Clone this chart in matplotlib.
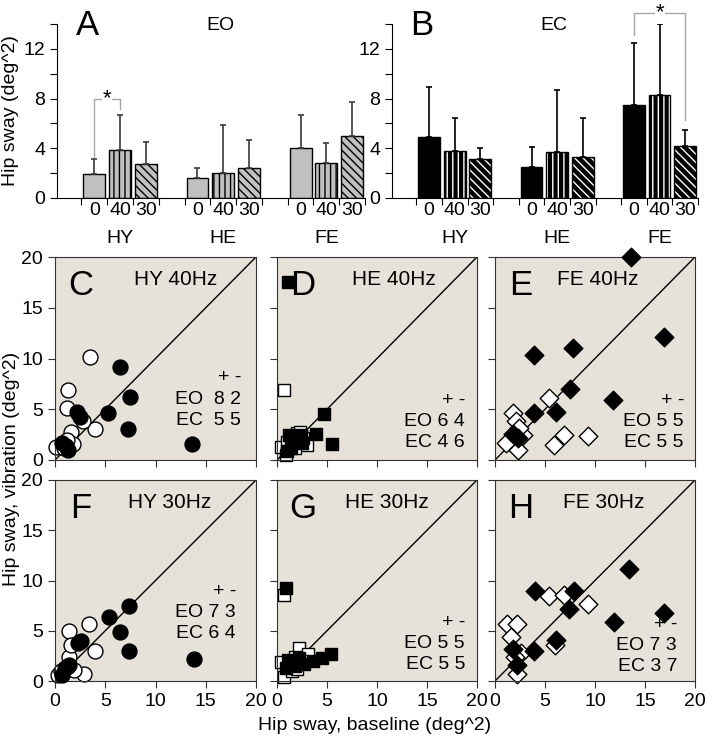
import matplotlib
matplotlib.use("Agg")
import matplotlib.pyplot as plt

plt.rcParams['font.family'] = ['Liberation Sans', 'DejaVu Sans']

# --- bar data (A: eyes open, B: eyes closed) ---
groups = ["HY", "HE", "FE"]
conds = ["0", "40", "30"]
eo_mean = [1.9, 3.9, 2.7, 1.6, 2.0, 2.4, 4.0, 2.8, 5.0]
eo_err_top = [3.1, 6.7, 4.5, 2.4, 5.9, 4.7, 6.7, 4.4, 7.7]
ec_mean = [4.9, 3.8, 3.1, 2.5, 3.7, 3.3, 7.5, 8.3, 4.2]
ec_err_top = [8.9, 6.4, 4.0, 4.1, 8.7, 6.4, 12.5, 14.0, 5.5]

# --- scatter data: (baseline, vibration) ---
hy40_eo_x = [3.5, 1.3, 1.2, 1.6, 4.0, 1.8, 0.1, 2.8, 0.9, 1.2]
hy40_eo_y = [10.1, 6.9, 5.1, 2.8, 3.1, 1.6, 1.3, 3.8, 1.2, 2.0]
hy40_ec_x = [6.5, 7.5, 5.3, 2.2, 2.5, 7.3, 13.6, 0.7, 1.3, 1.1]
hy40_ec_y = [9.2, 6.2, 4.6, 4.7, 4.2, 3.1, 1.6, 1.7, 1.0, 1.4]

he40_eo_x = [0.7, 2.0, 0.4, 0.9, 3.0, 1.3, 2.3, 1.0, 2.6, 1.8]
he40_eo_y = [6.9, 2.7, 1.3, 0.5, 1.5, 2.0, 2.8, 1.8, 2.2, 1.2]
he40_ec_x = [1.1, 4.7, 5.5, 3.9, 1.2, 1.7, 2.4, 1.0, 1.4, 2.5]
he40_ec_y = [17.5, 4.5, 1.6, 2.6, 2.5, 2.2, 2.5, 0.9, 1.2, 1.7]

fe40_eo_x = [5.4, 1.8, 2.1, 2.8, 1.1, 2.3, 5.9, 6.9, 9.3, 2.4]
fe40_eo_y = [6.1, 4.6, 3.8, 2.5, 1.7, 1.0, 1.5, 2.5, 2.4, 3.2]
fe40_ec_x = [13.6, 3.9, 7.8, 16.9, 7.5, 11.8, 3.9, 6.1, 1.8, 2.3]
fe40_ec_y = [20.0, 10.3, 11.0, 12.1, 7.0, 5.9, 4.6, 4.7, 2.6, 2.2]

hy30_eo_x = [1.4, 3.4, 4.0, 1.4, 1.6, 2.9, 1.9, 0.3, 1.2, 0.6]
hy30_eo_y = [5.0, 5.7, 3.0, 2.4, 3.6, 0.7, 1.1, 0.6, 1.4, 1.0]
hy30_ec_x = [7.4, 5.4, 6.5, 7.4, 13.8, 2.3, 2.6, 1.4, 1.0, 0.7]
hy30_ec_y = [7.5, 6.4, 4.9, 3.0, 2.2, 3.8, 4.0, 1.6, 1.3, 0.6]

he30_eo_x = [0.7, 2.2, 3.1, 0.4, 0.7, 1.8, 1.2, 2.5, 1.5, 2.0]
he30_eo_y = [8.6, 3.3, 2.7, 1.9, 0.4, 2.4, 1.5, 2.0, 1.0, 1.2]
he30_ec_x = [0.9, 5.4, 4.5, 3.6, 2.7, 1.8, 0.9, 1.3, 2.2, 1.1]
he30_ec_y = [9.3, 2.7, 2.3, 2.0, 1.7, 1.5, 1.3, 1.8, 2.3, 2.1]

fe30_eo_x = [5.4, 6.9, 9.3, 1.2, 2.2, 1.6, 2.6, 2.0, 2.2, 6.0]
fe30_eo_y = [8.5, 8.6, 7.7, 5.7, 5.7, 4.4, 2.8, 2.4, 0.7, 3.6]
fe30_ec_x = [4.0, 7.9, 7.4, 11.9, 16.9, 13.4, 6.1, 3.9, 1.8, 2.2]
fe30_ec_y = [9.0, 9.0, 7.2, 5.9, 6.8, 11.1, 4.1, 3.0, 3.2, 1.6]

W, H = 705, 741
fig = plt.figure(figsize=(W / 100, H / 100), dpi=100)


def rect(l, t, r, b):
    return [l / W, (H - b) / H, (r - l) / W, (b - t) / H]


# ---------- bar panels ----------
xpos = [g * 4 + i for g in range(3) for i in range(3)]
hatches = ["", "|||", "\\\\\\\\"]


def bar_panel(ax, means, tops, dark):
    for k, (x, m, t) in enumerate(zip(xpos, means, tops)):
        h = hatches[k % 3]
        if dark:
            ax.bar(x, m, 0.85, color="black", edgecolor="white", hatch=h, lw=0)
            ax.bar(x, m, 0.85, fill=False, edgecolor="black", lw=1)
            ecol = "black"
        else:
            ax.bar(x, m, 0.85, color="#c0c0c0", edgecolor="black", hatch=h, lw=1)
            ecol = "#3a3a3a"
        ax.errorbar(x, m, yerr=[[0], [t - m]], fmt="none", ecolor=ecol,
                    elinewidth=1.2, capsize=2.5, capthick=1.2)
    ax.set_xlim(-1.45, 10.4)
    ax.set_ylim(0, 14)
    ax.set_yticks(range(0, 15, 2))
    ax.set_yticklabels(["0", "", "4", "", "8", "", "12", ""])
    edges = [g * 4 + e for g in range(3) for e in (-0.5, 0.5, 1.5, 2.5)]
    ax.set_xticks(edges)
    ax.set_xticklabels([])
    ax.set_xticks(xpos, minor=True)
    ax.set_xticklabels(conds * 3, minor=True, fontsize=14)
    ax.tick_params(axis="x", which="minor", length=0, pad=3)
    ax.tick_params(axis="both", which="major", direction="out", length=5,
                   labelsize=14)
    for g, name in enumerate(groups):
        ax.text(g * 4 + 1, -0.235, name, transform=ax.get_xaxis_transform(),
                ha="center", va="center", fontsize=14)
    for s in ("top", "right"):
        ax.spines[s].set_visible(False)


axA = fig.add_axes(rect(57, 24, 365, 198))
bar_panel(axA, eo_mean, eo_err_top, False)
axA.set_ylabel("Hip sway (deg^2)", fontsize=14, labelpad=3)
axA.text(0.06, 0.99, "A", transform=axA.transAxes, fontsize=25, ha="left", va="center")
axA.text(0.53, 0.99, "EO", transform=axA.transAxes, fontsize=14, ha="center", va="center")
axA.plot([0, 0, 1, 1], [3.3, 8.0, 8.0, 7.2], color="#a8a8a8", lw=1)
axA.text(0.5, 8.0, "*", ha="center", va="center", fontsize=16,
         bbox=dict(fc="white", ec="none", pad=0.5))

axB = fig.add_axes(rect(392, 24, 698, 198))
bar_panel(axB, ec_mean, ec_err_top, True)
axB.text(0.06, 0.99, "B", transform=axB.transAxes, fontsize=25, ha="left", va="center")
axB.text(0.53, 0.99, "EC", transform=axB.transAxes, fontsize=14, ha="center", va="center")
axB.plot([8, 8, 10, 10], [13.1, 14.9, 14.9, 6.3], color="#a8a8a8", lw=1, clip_on=False)
axB.text(9, 14.9, "*", ha="center", va="center", fontsize=16, clip_on=False,
         bbox=dict(fc="white", ec="none", pad=0.5))

# ---------- scatter panels ----------
bg = "#e6e2d9"
cols = [(55, 256), (277, 477), (495, 695)]
rows = [(257, 460), (480, 681)]
panels = [
    ("C", "HY 40Hz", "o", hy40_eo_x, hy40_eo_y, hy40_ec_x, hy40_ec_y, ("8 2", "5 5"), 8.1, 18.5, 12.0, "EO  ", "EC  "),
    ("D", "HE 40Hz", "s", he40_eo_x, he40_eo_y, he40_ec_x, he40_ec_y, ("6 4", "4 6"), 5.9, 18.8, 11.7, "EO ", "EC "),
    ("E", "FE 40Hz", "D", fe40_eo_x, fe40_eo_y, fe40_ec_x, fe40_ec_y, ("5 5", "5 5"), 5.9, 18.9, 10.3, "EO ", "EC "),
    ("F", "HY 30Hz", "o", hy30_eo_x, hy30_eo_y, hy30_ec_x, hy30_ec_y, ("7 3", "6 4"), 8.9, 18.0, 11.4, "EO ", "EC "),
    ("G", "HE 30Hz", "s", he30_eo_x, he30_eo_y, he30_ec_x, he30_ec_y, ("5 5", "5 5"), 5.8, 18.8, 11.0, "EO ", "EC "),
    ("H", "FE 30Hz", "D", fe30_eo_x, fe30_eo_y, fe30_ec_x, fe30_ec_y, ("7 3", "3 7"), 5.6, 18.2, 10.9, "EO ", "EC "),
]
msize = {"o": 115, "s": 85, "D": 90}

for i, (letter, title, mk, ox, oy, cx, cy, counts, ty, tx, titx, eo_lab, ec_lab) in enumerate(panels):
    r, c = divmod(i, 3)
    l, rr = cols[c]
    t, b = rows[r]
    ax = fig.add_axes(rect(l, t, rr, b))
    ax.set_facecolor(bg)
    ax.set_xlim(0, 20)
    ax.set_ylim(0, 20)
    ax.axline((0, 0), slope=1, color="black", lw=1, zorder=1)
    ax.scatter(ox, oy, s=msize[mk], marker=mk, facecolor="white",
               edgecolor="black", lw=1, zorder=2, clip_on=False)
    ax.scatter(cx, cy, s=msize[mk], marker=mk, facecolor="black",
               edgecolor="black", lw=1, zorder=3, clip_on=False)
    ax.set_xticks(range(0, 21, 5))
    ax.set_yticks(range(0, 21, 5))
    ax.tick_params(direction="out", length=5, labelsize=14, color="#333333")
    if r == 0:
        ax.set_xticklabels([])
    if c > 0:
        ax.set_yticklabels([])
    for s in ax.spines.values():
        s.set_color("#333333")
    ax.text(2.6, 17.2, letter, fontsize=25, ha="center", va="center")
    ax.text(titx, 17.8, title, fontsize=15, ha="center", va="center")
    ax.text(tx, ty, "+ -", fontsize=14, ha="right", va="center")
    ax.text(tx, ty - 2.1, eo_lab + counts[0], fontsize=14, ha="right", va="center")
    ax.text(tx, ty - 4.2, ec_lab + counts[1], fontsize=14, ha="right", va="center")

fig.text(12 / W, 1 - 469 / H, "Hip sway, vibration (deg^2)", rotation=90,
         ha="center", va="center", fontsize=14)
fig.text(375 / W, 1 - 725 / H, "Hip sway, baseline (deg^2)",
         ha="center", va="center", fontsize=14)

fig.savefig("out.png", dpi=100)
